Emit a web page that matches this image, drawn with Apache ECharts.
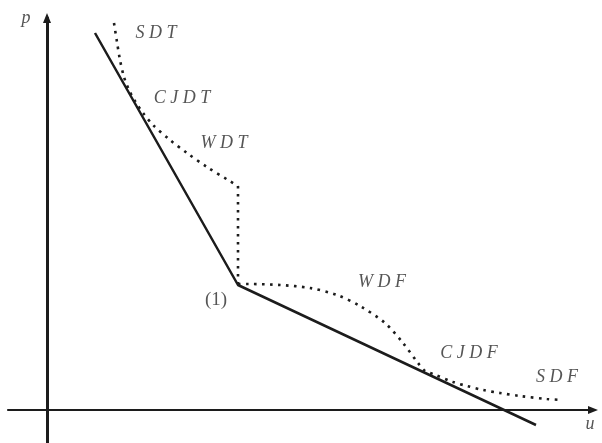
<!DOCTYPE html>
<html>
<head>
<meta charset="utf-8">
<script src="https://cdn.jsdelivr.net/npm/echarts@6/dist/echarts.min.js"></script>
<style>
  html, body { margin: 0; padding: 0; background: #fff; }
  #chart { width: 602px; height: 443px; }
</style>
</head>
<body>
<div id="chart"></div>
<script>
// Piecewise-linear wave curve through state (1): [u, p]
const waveCurve = [[48, 377], [191, 125], [489, -15]];

// Dotted branch through the T-labelled regions (SDT, CJDT, WDT)
const branchT = [
  [67, 387], [70, 368], [73, 350], [77, 333], [82, 320], [88, 309],
  [96, 297], [106, 285], [123, 270], [140, 257], [160, 243], [181, 230], [191, 224]
];

// Vertical jump of the dotted branch down to state (1)
const jump = [[191, 224], [191, 126]];

// Dotted branch through the F-labelled regions (WDF, CJDF, SDF)
const branchF = [
  [191, 126], [201, 126], [233, 125], [263, 122], [290, 115], [313, 104],
  [338, 87], [356, 67], [371, 47], [378, 39], [386, 36], [406, 28],
  [420, 24], [436, 20], [453, 17], [473, 14], [500, 11], [515, 10]
];

// Region labels
const regionNames = ['S D T', 'C J D T', 'W D T', 'W D F', 'C J D F', 'S D F'];
const regionAt = [[109, 377], [135, 312], [177, 267], [335, 128], [422, 57], [510, 33]];

// State label and axis names
const stateName = '(1)';
const stateAt = [169, 110];
const axisNames = ['u', 'p'];
const axisNameAt = [[543, -14], [-21, 392]];

const ink = '#1c1c1c';
const mathFont = {
  fontFamily: 'Liberation Serif',
  fontStyle: 'italic',
  fontSize: 18,
  color: '#2a2a2a'
};

const dotted = {
  type: 'line',
  showSymbol: false,
  symbol: 'none',
  lineStyle: { color: ink, width: 2.6, type: [2.6, 5.4], cap: 'butt' },
  z: 3
};

const textItems = regionNames.map((t, i) => ({ value: regionAt[i], name: t, font: mathFont }))
  .concat([{ value: stateAt, name: stateName, font: Object.assign({}, mathFont, { fontStyle: 'normal', fontSize: 19 }) }])
  .concat(axisNames.map((t, i) => ({ value: axisNameAt[i], name: t, font: mathFont })));

const chart = echarts.init(document.getElementById('chart'), null, { renderer: 'canvas' });
chart.setOption({
  animation: false,
  backgroundColor: '#fff',
  grid: { left: 8, right: 9, top: 18, bottom: 0 },
  xAxis: {
    type: 'value', min: -39, max: 546,
    axisLine: {
      onZero: true,
      symbol: ['none', 'triangle'], symbolSize: [8, 10],
      lineStyle: { color: ink, width: 2.2 }
    },
    axisTick: { show: false }, axisLabel: { show: false }, splitLine: { show: false }
  },
  yAxis: {
    type: 'value', min: -33, max: 392,
    axisLine: {
      onZero: true,
      symbol: ['none', 'triangle'], symbolSize: [8, 10],
      lineStyle: { color: ink, width: 3 }
    },
    axisTick: { show: false }, axisLabel: { show: false }, splitLine: { show: false }
  },
  series: [
    {
      type: 'line', data: waveCurve, showSymbol: false, symbol: 'none',
      lineStyle: { color: ink, width: 2.5 }, z: 4
    },
    Object.assign({ data: branchT, smooth: 0.3 }, dotted),
    Object.assign({ data: jump }, dotted),
    Object.assign({ data: branchF, smooth: 0.3 }, dotted),
    {
      type: 'scatter', symbolSize: 0, silent: true, z: 5,
      data: textItems.map(d => ({
        value: d.value, name: d.name,
        label: Object.assign({ show: true, position: 'inside', formatter: '{b}' }, d.font)
      }))
    }
  ]
});
</script>
</body>
</html>
